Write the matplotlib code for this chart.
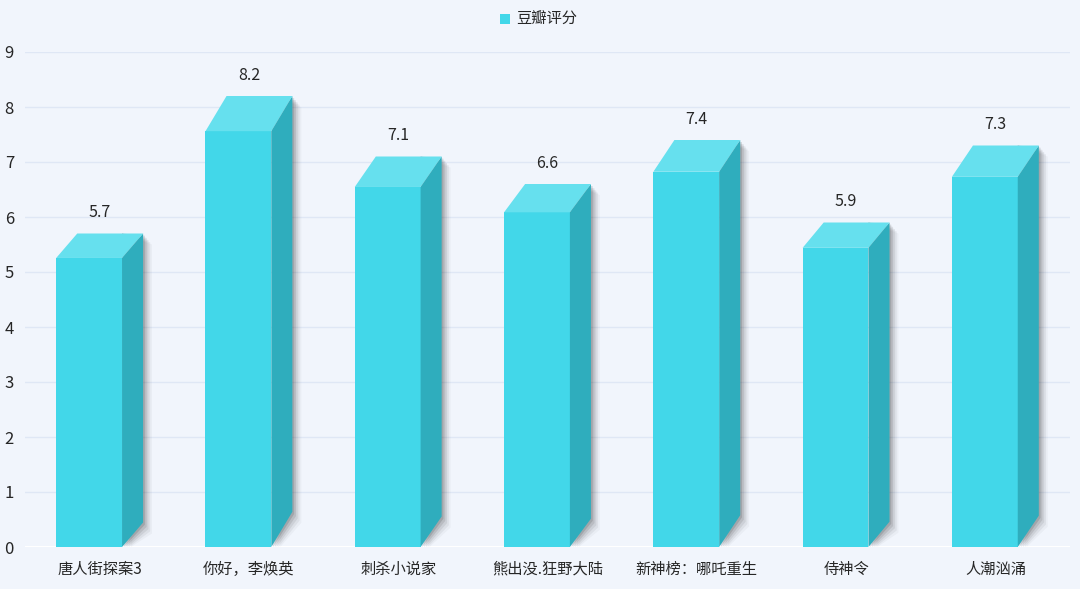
import matplotlib
matplotlib.use("Agg")
import matplotlib.pyplot as plt
from matplotlib.patches import Polygon, Rectangle

plt.rcParams["font.family"] = ["Noto Sans CJK SC", "DejaVu Sans"]

categories = ["唐人街探案3", "你好，李焕英", "刺杀小说家", "熊出没.狂野大陆",
              "新神榜：哪吒重生", "侍神令", "人潮汹涌"]
scores = [5.7, 8.2, 7.1, 6.6, 7.4, 5.9, 7.3]
series_name = "豆瓣评分"
y_ticks = list(range(0, 10))

BG = "#F1F5FC"
FRONT = "#42D7E9"
TOP = "#66E0EE"
SIDE = "#2FADBD"
GRID = "#DFE7F5"
TEXT = "#262626"

W, H = 1080, 589
fig = plt.figure(figsize=(W / 100, H / 100), dpi=100, facecolor=BG)
ax = fig.add_axes([25 / W, (H - 547) / H, 1045 / W, 495 / H], facecolor=BG)
ax.set_xlim(-0.5, len(categories) - 0.5)
ax.set_ylim(0, 9)

# bar geometry in data units (1 category = 149.3 px)
half = 0.291      # half of full footprint (front + depth)
dx = 0.141        # depth along x
depth_k = 0.078   # depth along y, proportional to value

for i, v in enumerate(scores):
    dy = depth_k * v
    x0 = i - half
    x1 = i + half - dx
    x2 = i + half
    ftop = v - dy
    # soft shadow
    for k, a in zip(range(1, 6), [0.12, 0.09, 0.07, 0.05, 0.03]):
        sx = 0.012 * k
        sy = 0.04 * k
        ax.add_patch(Polygon([(x1 + sx, 0), (x2 + sx, dy - sy),
                              (x2 + sx, v - sy), (x1, v)],
                             closed=True, fc="#000000", alpha=a, lw=0, zorder=2))
    ax.add_patch(Rectangle((x0, 0), x1 - x0, ftop, fc=FRONT, lw=0, zorder=3))
    ax.add_patch(Polygon([(x1, 0), (x2, dy), (x2, v), (x1, ftop)],
                         closed=True, fc=SIDE, lw=0, zorder=3))
    ax.add_patch(Polygon([(x0, ftop), (x1, ftop), (x2, v), (x0 + dx, v)],
                         closed=True, fc=TOP, lw=0, zorder=3))
    ax.text(i, v + 0.22, f"{v}", ha="center", va="bottom", fontsize=11.5,
            color=TEXT, zorder=4)

ax.set_yticks(y_ticks)
ax.set_yticklabels([str(t) for t in y_ticks], fontsize=12, color=TEXT)
ax.set_xticks(range(len(categories)))
ax.set_xticklabels(categories, fontsize=11, color=TEXT)
ax.tick_params(axis="both", length=0)
ax.tick_params(axis="y", pad=8)
ax.tick_params(axis="x", pad=10)
for s in ax.spines.values():
    s.set_visible(False)
for t in y_ticks[1:]:
    ax.axhline(t, color=GRID, lw=1, zorder=1)
ax.axhline(0, color="#FFFFFF", lw=1.5, zorder=1)

# legend
fig.patches.append(Rectangle((500 / W, (H - 24) / H), 10 / W, 10 / H,
                             transform=fig.transFigure, fc=FRONT, lw=0))
fig.text(516 / W, (H - 19) / H, series_name, fontsize=11, color=TEXT,
         ha="left", va="center")

fig.savefig("out.png", dpi=100, facecolor=BG)
